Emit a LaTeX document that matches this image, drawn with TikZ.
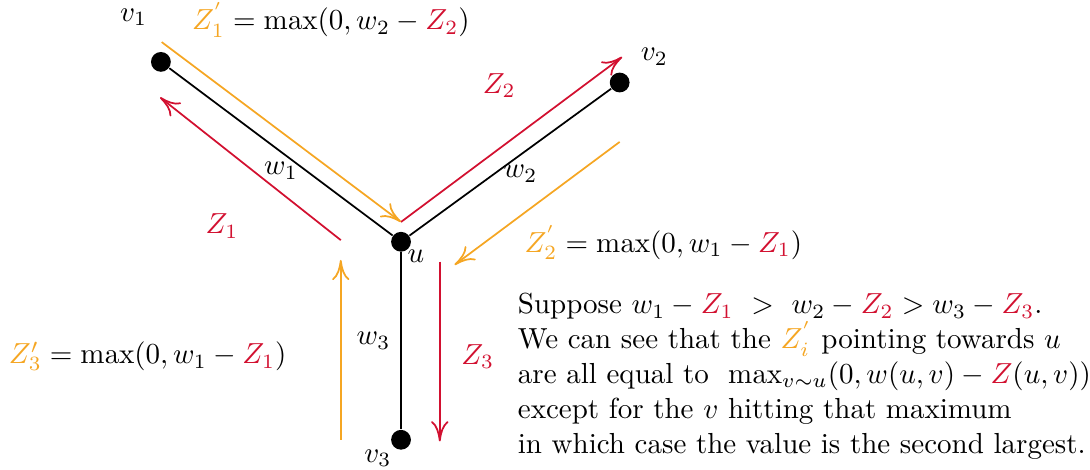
\documentclass[tikz,border=0pt]{standalone}
\usepackage{amsmath, amssymb}
\usepackage{xcolor}
\usepackage{tikz}
\usetikzlibrary{calc, positioning, arrows.meta}

\definecolor{zred}{RGB}{210,16,48}
\definecolor{zorange}{RGB}{245,166,35}

\begin{document}
\begin{tikzpicture}[>={To[length=7pt, width=6pt]},
    dot/.style={circle, fill=black, inner sep=0pt, minimum size=0.24cm},
    redarr/.style={->, zred, semithick},
    orangearr/.style={->, zorange, semithick}]
    \useasboundingbox (-4.86,-2.76) rectangle (8.35,2.93);

    % 1. Cac dinh
    \node[dot] (u)  at (0,0) {};
    \node[dot] (v1) at (-2.91,2.18) {};
    \node[dot] (v2) at (2.65,1.93) {};
    \node[dot] (v3) at (0,-2.40) {};
    \node (lu)  at (0.18,-0.17) {$u$};
    \node (lv1) at (-3.24,2.72) {$v_1$};
    \node (lv2) at (3.07,2.24) {$v_2$};
    \node (lv3) at (-0.28,-2.62) {$v_3$};

    % 2. Cac canh
    \draw[semithick] (u) -- (v1) node[midway, below] {$w_1$};
    \draw[semithick] (u) -- (v2) node[pos=0.55, below] {$w_2$};
    \draw[semithick] (u) -- (v3) node[midway, left] {$w_3$};

    % 3. Diem dau, diem cuoi cua cac mui ten
    \coordinate (o1s) at (-2.90,2.42);
    \coordinate (o1e) at (0,0.24);
    \coordinate (r1s) at (-0.73,0.02);
    \coordinate (r1e) at (-2.92,1.75);
    \coordinate (r2s) at (0,0.24);
    \coordinate (r2e) at (2.68,2.24);
    \coordinate (o2s) at (2.65,1.21);
    \coordinate (o2e) at (0.65,-0.28);
    \coordinate (r3s) at (0.47,-0.24);
    \coordinate (r3e) at (0.47,-2.42);
    \coordinate (o3s) at (-0.73,-2.40);
    \coordinate (o3e) at (-0.73,-0.22);

    % 4. Mui ten Z (do) va Z' (cam)
    \draw[redarr] (r1s) -- (r1e);
    \draw[redarr] (r2s) -- (r2e);
    \draw[redarr] (r3s) -- (r3e);
    \draw[orangearr] (o1s) -- (o1e);
    \draw[orangearr] (o2s) -- (o2e);
    \draw[orangearr] (o3s) -- (o3e);

    % 5. Nhan
    \node (z1) at (-2.17,0.19) {$\color{zred}Z_1$};
    \node (z2) at (1.19,1.89) {$\color{zred}Z_2$};
    \node (z3) at (0.93,-1.39) {$\color{zred}Z_3$};
    \node (zp1) at (-0.85,2.69) {$\color{zorange}Z^{'}_1 \color{black}= \max(0, w_2 - \color{zred}Z_2\color{black})$};
    \node (zp2) at (3.18,-0.01) {$\color{zorange}Z^{'}_2 \color{black}= \max(0, w_1 - \color{zred}Z_1\color{black})$};
    \node (zp3) at (-3.07,-1.39) {$\color{zorange}Z'_3 \color{black}= \max(0, w_1 - \color{zred}Z_1\color{black})$};

    % 6. Giai thich
    \node[anchor=north west, inner sep=0pt, align=left] (txt) at (1.41,-0.62) {%
        Suppose $w_1 - \color{zred}Z_1\color{black} \ > \ w_2 - \color{zred}Z_2\color{black} > w_3 - \color{zred}Z_3\color{black}$.\\
        We can see that the $\color{zorange}Z^{'}_i$ pointing towards $u$\\
        are all equal to \ $\max_{v\sim u}(0, w(u,v) - \color{zred}Z\color{black}(u,v))$\\
        except for the $v$ hitting that maximum\\
        in which case the value is the second largest.};
\end{tikzpicture}
\end{document}
